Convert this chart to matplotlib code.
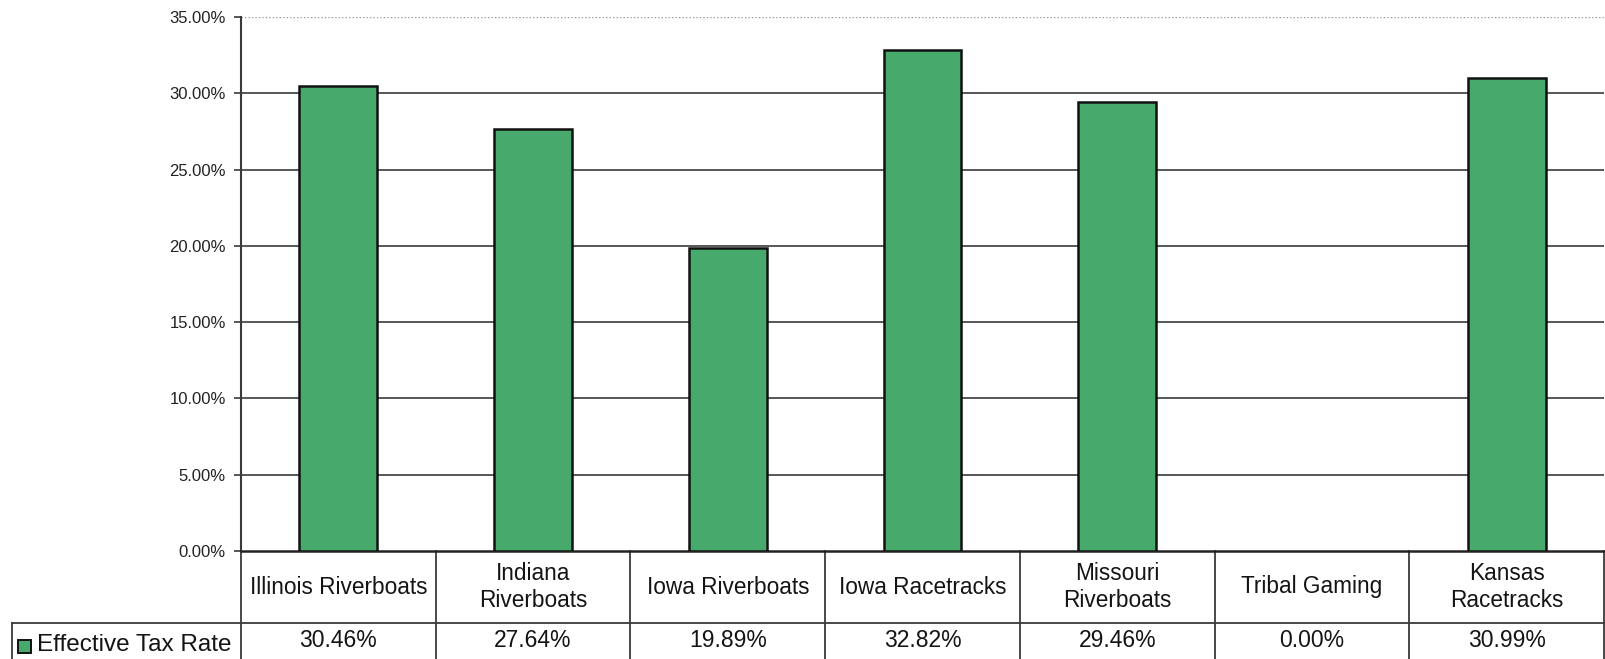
import numpy as np
import matplotlib.pyplot as plt
from matplotlib.patches import Rectangle

plt.rcParams['font.family'] = ['Liberation Sans', 'DejaVu Sans']

# Chart data
CATEGORIES = [
    "Illinois Riverboats",
    "Indiana\nRiverboats",
    "Iowa Riverboats",
    "Iowa Racetracks",
    "Missouri\nRiverboats",
    "Tribal Gaming",
    "Kansas\nRacetracks",
]
TAX_RATES = [30.46, 27.64, 19.89, 32.82, 29.46, 0.00, 30.99]
SERIES_NAME = "Effective Tax Rate"
Y_TICKS = [0, 5, 10, 15, 20, 25, 30, 35]

BAR_COLOR = "#47aa6c"
GRID_COLOR = "#4a4a4a"
LINE_COLOR = "#3a3a3a"
TEXT_COLOR = "#141414"

W, H = 1606, 659
fig = plt.figure(figsize=(W / 100, H / 100), dpi=100)
left, right, top, bottom = 241, 1604, 17, 551
ax = fig.add_axes([left / W, 1 - bottom / H, (right - left) / W, (bottom - top) / H])

n = len(CATEGORIES)
x = np.arange(n) + 0.5
ax.set_xlim(0, n)
ax.set_ylim(0, 35)

# Horizontal gridlines (top one is faint and dotted)
for t in Y_TICKS[1:-1]:
    ax.axhline(t, color=GRID_COLOR, lw=1.3, zorder=1)
ax.axhline(35, color="#9a9a9a", lw=1.0, ls=(0, (1, 1.5)), zorder=1)

# a zero-height bar gets no outline
edge_widths = [1.8 if v > 0 else 0 for v in TAX_RATES]
ax.bar(x, TAX_RATES, width=0.40, color=BAR_COLOR, edgecolor="#111111",
       linewidth=edge_widths, zorder=3)

# Axes styling
for side in ("top", "right"):
    ax.spines[side].set_visible(False)
ax.spines["left"].set_color(LINE_COLOR)
ax.spines["left"].set_linewidth(1.5)
ax.spines["bottom"].set_color("#222222")
ax.spines["bottom"].set_linewidth(1.8)
ax.set_yticks(Y_TICKS)
ax.set_yticklabels([f"{t:.2f}%" for t in Y_TICKS], fontsize=12, color="#222222")
ax.tick_params(axis="y", length=5, width=1.2, color=LINE_COLOR, pad=6)
ax.set_xticks([])

# Data table beneath the plot
ph = bottom - top
row1 = -(623 - bottom) / ph
row2 = -(668 - bottom) / ph
trans = ax.get_xaxis_transform()
tkw = dict(transform=trans, clip_on=False, color=LINE_COLOR, lw=1.3)

for i in range(n + 1):
    ax.plot([i, i], [0, row2], **tkw)
ax.plot([0, n], [row1, row1], **tkw)

# legend cell on the left, in figure pixels
leg_left = 12 / W
fig.add_artist(plt.Line2D([leg_left, left / W], [1 - 623 / H, 1 - 623 / H],
                          transform=fig.transFigure, color=LINE_COLOR, lw=1.3))
fig.add_artist(plt.Line2D([leg_left, leg_left], [1 - 623 / H, 0],
                          transform=fig.transFigure, color=LINE_COLOR, lw=1.3))
fig.add_artist(Rectangle((18 / W, 1 - 653 / H), 13 / W, 13 / H,
                         transform=fig.transFigure, facecolor=BAR_COLOR,
                         edgecolor="#111111", lw=1.4))
fig.text(37 / W, 1 - 645 / H, SERIES_NAME, ha="left", va="center",
         fontsize=17.5, color=TEXT_COLOR)

for xi, cat, val in zip(x, CATEGORIES, TAX_RATES):
    ax.text(xi, row1 / 2, cat, transform=trans, ha="center", va="center",
            fontsize=16.3, color=TEXT_COLOR, linespacing=1.25, clip_on=False)
    ax.text(xi, (row1 + row2) / 2 + 0.01, f"{val:.2f}%", transform=trans,
            ha="center", va="center", fontsize=16.5, color=TEXT_COLOR,
            clip_on=False)

fig.savefig("out.png", dpi=100)
